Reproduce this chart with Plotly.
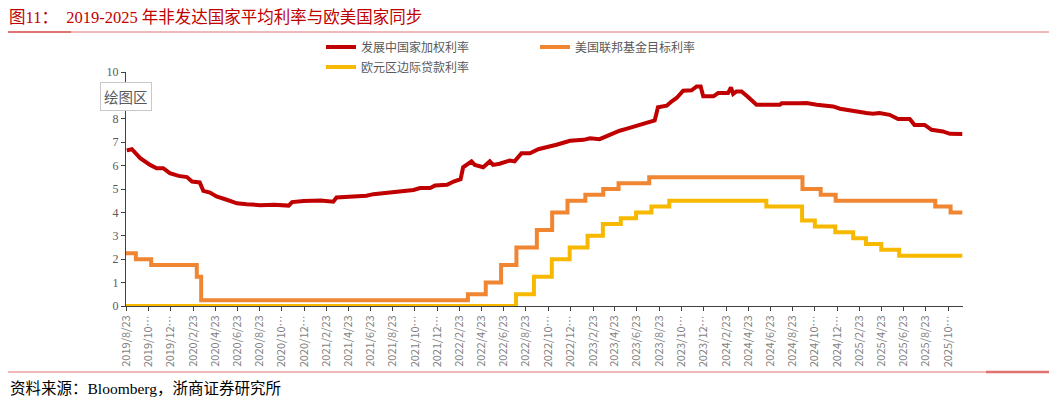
import plotly.graph_objects as go

# 发展中国家加权利率
dev_dates = [
    "2019-08-25", "2019-09-08", "2019-10-01", "2019-10-28", "2019-11-15", "2019-12-03",
    "2019-12-21", "2020-01-14", "2020-02-06", "2020-02-20", "2020-03-12", "2020-03-22",
    "2020-04-09", "2020-04-27", "2020-05-25", "2020-06-22", "2020-07-19", "2020-08-25",
    "2020-10-01", "2020-11-11", "2020-11-20", "2020-12-22", "2021-02-06", "2021-03-13",
    "2021-03-22", "2021-05-07", "2021-06-12", "2021-07-01", "2021-08-07", "2021-09-12",
    "2021-10-19", "2021-11-06", "2021-12-04", "2021-12-17", "2022-01-19", "2022-02-06",
    "2022-02-25", "2022-03-04", "2022-03-27", "2022-04-05", "2022-04-28", "2022-05-16",
    "2022-05-25", "2022-06-12", "2022-07-10", "2022-07-23", "2022-08-11", "2022-09-03",
    "2022-09-26", "2022-11-15", "2022-12-22", "2023-01-28", "2023-02-15", "2023-03-13",
    "2023-04-09", "2023-05-07", "2023-05-25", "2023-06-22", "2023-07-19", "2023-08-11",
    "2023-08-20", "2023-09-13", "2023-09-26", "2023-10-10", "2023-10-28", "2023-11-20",
    "2023-12-04", "2023-12-15", "2023-12-22", "2024-01-19", "2024-02-01", "2024-02-28",
    "2024-03-07", "2024-03-13", "2024-03-22", "2024-04-05", "2024-04-23", "2024-05-16",
    "2024-07-19", "2024-07-24", "2024-09-12", "2024-09-30", "2024-10-28", "2024-12-12",
    "2024-12-31", "2025-02-06", "2025-03-13", "2025-03-31", "2025-04-18", "2025-05-16",
    "2025-06-08", "2025-07-10", "2025-07-23", "2025-08-20", "2025-09-08", "2025-10-09",
    "2025-10-28", "2025-12-01",
]
dev_rate = [
    6.65, 6.70, 6.32, 6.03, 5.89, 5.89,
    5.68, 5.56, 5.51, 5.32, 5.28, 4.92,
    4.85, 4.68, 4.54, 4.39, 4.35, 4.31,
    4.33, 4.29, 4.44, 4.49, 4.51, 4.46,
    4.64, 4.66, 4.71, 4.78, 4.85, 4.91,
    4.96, 5.04, 5.04, 5.15, 5.18, 5.32,
    5.42, 5.93, 6.18, 6.03, 5.93, 6.18,
    6.03, 6.08, 6.22, 6.18, 6.53, 6.53,
    6.70, 6.89, 7.06, 7.10, 7.17, 7.13,
    7.32, 7.49, 7.57, 7.70, 7.86, 7.93,
    8.49, 8.56, 8.74, 8.89, 9.20, 9.22,
    9.38, 9.38, 8.96, 8.96, 9.10, 9.10,
    9.34, 9.06, 9.17, 9.17, 8.93, 8.60,
    8.60, 8.66, 8.66, 8.67, 8.60, 8.53,
    8.43, 8.32, 8.25, 8.22, 8.25, 8.17,
    7.99, 7.99, 7.74, 7.74, 7.53, 7.46,
    7.36, 7.35,
]

# 美国联邦基金目标利率 (upper bound, step changes)
fed_dates = [
    "2019-08-23", "2019-09-19", "2019-10-31", "2020-03-04", "2020-03-16", "2022-03-17",
    "2022-05-05", "2022-06-16", "2022-07-28", "2022-09-22", "2022-11-03", "2022-12-15",
    "2023-02-02", "2023-03-23", "2023-05-04", "2023-07-27", "2024-09-19", "2024-11-08",
    "2024-12-19", "2025-09-18", "2025-10-30", "2025-12-01",
]
fed_rate = [
    2.25, 2.00, 1.75, 1.25, 0.25, 0.50,
    1.00, 1.75, 2.50, 3.25, 4.00, 4.50,
    4.75, 5.00, 5.25, 5.50, 5.00, 4.75,
    4.50, 4.25, 4.00, 4.00,
]

# 欧元区利率 (step changes)
ecb_dates = [
    "2019-08-23", "2022-07-27", "2022-09-14", "2022-11-02", "2022-12-21", "2023-02-08",
    "2023-03-22", "2023-05-10", "2023-06-21", "2023-08-02", "2023-09-20", "2024-06-12",
    "2024-09-18", "2024-10-23", "2024-12-18", "2025-02-05", "2025-03-12", "2025-04-23",
    "2025-06-11", "2025-12-01",
]
ecb_rate = [
    0.00, 0.50, 1.25, 2.00, 2.50, 3.00,
    3.50, 3.75, 4.00, 4.25, 4.50, 4.25,
    3.65, 3.40, 3.15, 2.90, 2.65, 2.40,
    2.15, 2.15,
]

# x-axis ticks every two months
tick_dates = []
tick_labels = []
for i in range(38):
    m = 8 + 2 * i
    yr = 2019 + (m - 1) // 12
    mo = (m - 1) % 12 + 1
    tick_dates.append(f"{yr}-{mo:02d}-23")
    tick_labels.append(f"{yr}/{mo}/23" if mo < 10 else f"{yr}/{mo}…")

# window size and plot box in window pixels; the page body adds an 8px offset
W, H = 1057, 404
OFF = 8
L, R, T, B = 126, 963, 72, 306


def px(x):
    return (x - L) / (R - L)


def py(y):
    return (B - y) / (B - T)


serif = "Liberation Serif, Noto Sans CJK SC"
sans = "Noto Sans CJK SC, Noto Sans"

fig = go.Figure()
fig.add_trace(go.Scatter(x=dev_dates, y=dev_rate, name="发展中国家加权利率", mode="lines",
                         line=dict(color="#C00000", width=4), legend="legend", showlegend=True))
fig.add_trace(go.Scatter(x=fed_dates, y=fed_rate, name="美国联邦基金目标利率", mode="lines",
                         line=dict(color="#F08632", width=4, shape="hv"), legend="legend2",
                         showlegend=True))
fig.add_trace(go.Scatter(x=ecb_dates, y=ecb_rate, name="欧元区边际贷款利率", mode="lines",
                         line=dict(color="#F7B900", width=4, shape="hv"), legend="legend3",
                         showlegend=True))

leg = dict(font=dict(family=sans, size=12, color="#595959"), bgcolor="rgba(0,0,0,0)",
           xanchor="left", yanchor="middle", itemwidth=30, tracegroupgap=0)
fig.update_layout(
    width=W - OFF, height=H - OFF,
    showlegend=True,
    margin=dict(l=L - OFF, r=W - R, t=T - OFF, b=H - B, autoexpand=False),
    paper_bgcolor="white", plot_bgcolor="white",
    legend=dict(leg, x=px(321), y=py(47)),
    legend2=dict(leg, x=px(535), y=py(47)),
    legend3=dict(leg, x=px(321), y=py(67)),
    xaxis=dict(
        type="date", range=["2019-08-23", "2025-12-03"],
        tickvals=tick_dates, ticktext=tick_labels, tickangle=-90,
        tickfont=dict(family=sans, size=11, color="#7F7F7F"),
        showgrid=False, zeroline=False, automargin=False,
        showline=True, linecolor="#404040", linewidth=1,
        ticks="outside", ticklen=4, tickcolor="#404040",
    ),
    yaxis=dict(
        range=[0, 10], dtick=1,
        tickfont=dict(family=serif, size=12, color="#595959"),
        showgrid=False, zeroline=False, automargin=False,
        showline=True, linecolor="#404040", linewidth=1,
        ticks="outside", ticklen=4, tickcolor="#404040",
    ),
)

rule = "#E07272"
shapes = [
    dict(x0=px(8), x1=px(1051), y0=py(32), y1=py(32), line=dict(color=rule, width=1)),
    dict(x0=px(8), x1=px(71), y0=py(32), y1=py(32), line=dict(color=rule, width=2)),
    dict(x0=px(8), x1=px(1051), y0=py(372), y1=py(372), line=dict(color=rule, width=1)),
    dict(x0=px(986), x1=px(1051), y0=py(372), y1=py(372), line=dict(color=rule, width=2.5)),
]
for s in shapes:
    s.update(type="line", xref="paper", yref="paper")
fig.update_layout(shapes=shapes)

fig.add_annotation(text="图11：  2019-2025 年非发达国家平均利率与欧美国家同步",
                   xref="paper", yref="paper", x=px(8), y=py(18),
                   xanchor="left", yanchor="middle", showarrow=False, borderpad=0,
                   font=dict(family=serif, size=16.5, color="#C00000"))
fig.add_annotation(text="资料来源：Bloomberg，浙商证券研究所",
                   xref="paper", yref="paper", x=px(8), y=py(388),
                   xanchor="left", yanchor="middle", showarrow=False,
                   font=dict(family=serif, size=15.5, color="#000000"))
# the "绘图区" tag sits over the 9 label, as in the reference
fig.add_annotation(text="绘图区", xref="paper", yref="paper", x=px(100), y=py(97),
                   xanchor="left", yanchor="middle", showarrow=False,
                   font=dict(family=sans, size=14.5, color="#595959"),
                   bgcolor="white", bordercolor="#C8C8C8", borderwidth=1, borderpad=3)

fig.write_html("out.html")
